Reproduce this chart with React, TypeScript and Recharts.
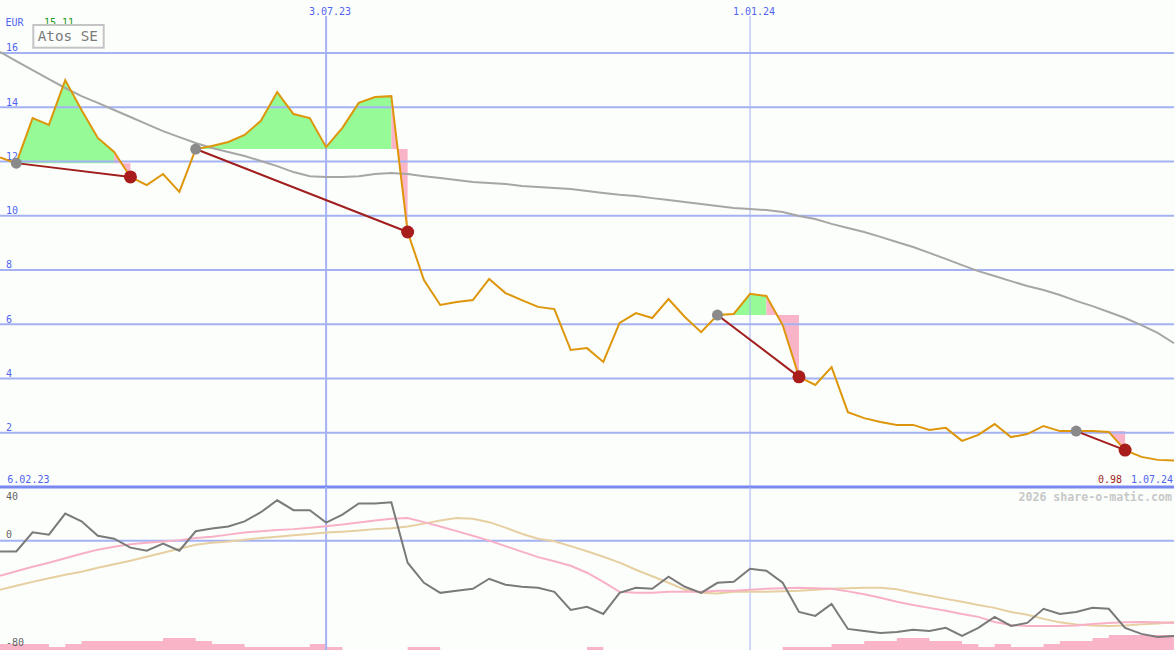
import { ComposedChart, Line, Area, XAxis, YAxis, ReferenceLine } from 'recharts';

// weekly closes, 6.02.23 .. 1.07.24
const price = [
  12.15, 11.94, 13.6, 13.35, 15.0, 13.9, 12.87, 12.35, 11.43, 11.13,
  11.54, 10.88, 12.46, 12.57, 12.72, 12.98, 13.5, 14.56, 13.75, 13.6,
  12.53, 13.24, 14.16, 14.38, 14.41, 9.4, 7.63, 6.71, 6.82, 6.89,
  7.67, 7.15, 6.89, 6.64, 6.56, 5.05, 5.12, 4.61, 6.05, 6.41,
  6.23, 6.93, 6.27, 5.71, 6.34, 6.38, 7.12, 7.04, 5.97, 4.06,
  3.76, 4.42, 2.76, 2.54, 2.4, 2.29, 2.29, 2.1, 2.18, 1.7,
  1.92, 2.32, 1.84, 1.95, 2.25, 2.06, 2.06, 2.06, 2.03, 1.36,
  1.11, 1.0, 0.98,
];

const average = [
  16.04, 15.7, 15.37, 15.04, 14.71, 14.41, 14.16, 13.9, 13.64, 13.38,
  13.12, 12.9, 12.68, 12.5, 12.35, 12.2, 12.02, 11.83, 11.61, 11.46,
  11.43, 11.43, 11.46, 11.54, 11.58, 11.54, 11.46, 11.39, 11.32, 11.24,
  11.21, 11.17, 11.1, 11.06, 11.02, 10.99, 10.91, 10.84, 10.77, 10.73,
  10.65, 10.58, 10.51, 10.43, 10.36, 10.29, 10.25, 10.21, 10.14, 9.99,
  9.88, 9.7, 9.55, 9.4, 9.22, 9.03, 8.85, 8.63, 8.41, 8.18,
  7.96, 7.78, 7.59, 7.41, 7.26, 7.08, 6.86, 6.67, 6.45, 6.23,
  5.97, 5.68, 5.3,
];

const buyIdx = [1, 12, 44, 66];
const turnIdx = [7, 24, 47, 67];
const sellIdx = [8, 25, 49, 69];

const oscillator = [
  -8, -8, 6.2, 4.5, 20.2, 14.4, 3.7, 1.5, -5.2, -7.5,
  -2.2, -7.5, 7, 9, 10.5, 14.4, 21.2, 30.1, 22.7, 22.7,
  13.5, 19.4, 27.7, 27.7, 28.6, -16.4, -31.4, -38.9, -37.4, -35.9,
  -28.4, -32.9, -34.4, -35.1, -38.1, -51.6, -49.3, -54.6, -38.9, -35.1,
  -35.9, -26.9, -34.4, -38.9, -31.4, -30.7, -20.9, -22.4, -31.4, -53.1,
  -56.1, -47.1, -65.8, -67.3, -68.8, -68, -66.5, -67.3, -65, -71,
  -65, -56.8, -63.6, -61.3, -50.8, -54.6, -53.1, -50.1, -50.8, -65,
  -69.5, -71.8, -71,
];

const signalPink = [
  -26.2, -22.8, -19.4, -16.4, -13.1, -9.7, -6.7, -4.5, -2.6, -1.5,
  -0.7, 0.4, 1.9, 3, 4.5, 6, 7.1, 7.9, 8.6, 9.7,
  10.8, 12, 13.5, 15, 16.4, 16.8, 13.8, 10.5, 7.1, 3.7,
  0, -4.1, -8.2, -12.3, -15.3, -18.7, -23.9, -30.7, -38.1, -38.9,
  -38.9, -38.1, -38.1, -38.1, -37.4, -37.4, -36.6, -35.9, -35.5, -35.1,
  -35.5, -35.9, -37.8, -40, -42.6, -45.6, -47.9, -50.1, -52.3, -54.6,
  -56.8, -60.6, -62.8, -63.6, -63.6, -63.6, -63.2, -62.1, -61.3, -60.9,
  -60.6, -60.9, -61.3,
];

const signalTan = [
  -36.6, -33.6, -30.7, -28, -25.4, -23.2, -20.2, -17.6, -15, -12,
  -9, -6, -3, -1.5, -0.7, 0.7, 1.9, 3, 4.1, 4.9,
  6, 6.7, 7.5, 8.6, 9.3, 10.5, 12.7, 15, 16.8, 16.4,
  13.8, 9.7, 5.2, 1.5, -0.4, -4.1, -7.9, -12, -16.4, -21.7,
  -26.5, -31.4, -36.6, -38.9, -39.3, -38.1, -38.1, -38.1, -37.8, -37.4,
  -36.6, -35.9, -35.5, -35.1, -35.1, -36.3, -38.9, -41.1, -43.4, -45.6,
  -47.9, -50.1, -53.1, -55.3, -58.3, -60.9, -62.4, -63.2, -63.6, -63.2,
  -62.4, -61.7, -60.6,
];

const volume = [
  2, 2, 2, 1, 2, 3, 3, 3, 3, 3,
  4, 4, 3, 2, 2, 1, 1, 1, 1, 2,
  1, 0, 0, 0, 0, 1, 1, 0, 0, 0,
  0, 0, 0, 0, 0, 0, 1, 0, 0, 0,
  0, 0, 0, 0, 0, 0, 0, 0, 1, 1,
  1, 2, 2, 3, 3, 4, 4, 3, 3, 2,
  1, 2, 1, 1, 2, 3, 3, 4, 5, 5,
  5, 5, 5,
];

const priceTicks = [2, 4, 6, 8, 10, 12, 14, 16];
const oscTicks = [-80, 0, 40];

const BG = '#fcfefc';
const GRID = '#a4b2f4';
const BLUE = '#5064f0';
const MONO = '"DejaVu Sans Mono", monospace';

const rows = price.map((p, i) => {
  const row: any = { i, price: p, avg: average[i], buy: null, sell: null, gain: null, loss: null };
  buyIdx.forEach((b, k) => {
    const base = price[b];
    if (i === b) row.buy = p;
    if (i === sellIdx[k]) row.sell = p;
    row[`t${k}`] = i === b || i === sellIdx[k] ? p : null;
    if (i >= b && i <= turnIdx[k]) row.gain = [base, p];
    if (i >= turnIdx[k] && i <= sellIdx[k]) row.loss = [base, p];
  });
  return row;
});

const lowRows = oscillator.map((v, i) => ({
  i,
  osc: v,
  pink: signalPink[i],
  tan: signalTan[i],
  vol: volume[i],
}));

const dotRenderer = (fill: string, r: number) => (props: any) => {
  if (props.value == null || props.cy == null) return <g key={`e-${props.index}`} />;
  return <circle key={`d-${props.index}`} cx={props.cx} cy={props.cy} r={r} fill={fill} />;
};

const tickLabel = (value: number, color: string, dy: number) => (props: any) => (
  <text x={6} y={props.viewBox.y + dy} fill={color} fontSize={10} fontFamily={MONO}>
    {value}
  </text>
);

export default function App() {
  return (
    <div style={{ position: 'absolute', left: 0, top: 0, width: 1175, height: 650, background: BG, overflow: 'hidden' }}>
      <div style={{ position: 'absolute', left: 0, top: 0 }}>
        <ComposedChart width={1175} height={490} data={rows} margin={{ top: 16, right: 1, bottom: 3, left: 0 }}>
          <XAxis type="number" dataKey="i" domain={[0, 72]} hide />
          <YAxis type="number" domain={[0, 17.364]} hide allowDataOverflow />
          {priceTicks.map((v) => (
            <ReferenceLine key={v} y={v} stroke={GRID} strokeWidth={2} label={tickLabel(v, BLUE, -1.5)} />
          ))}
          <ReferenceLine x={20} stroke={GRID} strokeWidth={2} />
          <ReferenceLine x={46} stroke={GRID} strokeWidth={1} />
          <Area dataKey="gain" type="linear" stroke="none" fill="#96fa96" fillOpacity={1} isAnimationActive={false} />
          <Area dataKey="loss" type="linear" stroke="none" fill="#fab4c8" fillOpacity={1} isAnimationActive={false} />
          <Line dataKey="avg" stroke="#a6a6a6" strokeWidth={2} dot={false} activeDot={false} isAnimationActive={false} />
          <Line dataKey="buy" stroke="none" dot={dotRenderer('#8a8a8a', 5.5)} activeDot={false} isAnimationActive={false} />
          <Line dataKey="sell" stroke="none" dot={dotRenderer('#a81c1c', 6.5)} activeDot={false} isAnimationActive={false} />
          {buyIdx.map((_, k) => (
            <Line
              key={k}
              dataKey={`t${k}`}
              connectNulls
              stroke="#a01e1e"
              strokeWidth={2}
              dot={false}
              activeDot={false}
              isAnimationActive={false}
            />
          ))}
          <Line dataKey="price" stroke="#dd960a" strokeWidth={2} dot={false} activeDot={false} isAnimationActive={false} />
          <ReferenceLine y={0} stroke="#7888f0" strokeWidth={3} />
        </ComposedChart>
      </div>
      <div style={{ position: 'absolute', left: 0, top: 487 }}>
        <ComposedChart width={1175} height={163} data={lowRows} margin={{ top: 0, right: 1, bottom: 0, left: 0 }}>
          <XAxis type="number" dataKey="i" domain={[0, 72]} hide />
          <YAxis yAxisId="osc" type="number" domain={[-81.5, 40]} hide allowDataOverflow />
          <YAxis yAxisId="vol" type="number" domain={[0, 54]} hide allowDataOverflow />
          {oscTicks.map((v) => (
            <ReferenceLine
              key={v}
              yAxisId="osc"
              y={v}
              stroke={v === 0 ? GRID : 'none'}
              strokeWidth={2}
              label={tickLabel(v, '#666', v === 40 ? 13 : -2.4)}
            />
          ))}
          <ReferenceLine yAxisId="osc" x={20} stroke={GRID} strokeWidth={2} />
          <ReferenceLine yAxisId="osc" x={46} stroke={GRID} strokeWidth={1} />
          <Area yAxisId="vol" dataKey="vol" type="stepAfter" stroke="none" fill="#f9b4c8" fillOpacity={1} isAnimationActive={false} />
          <Line yAxisId="osc" dataKey="tan" stroke="#e6cfa0" strokeWidth={2} dot={false} activeDot={false} isAnimationActive={false} />
          <Line yAxisId="osc" dataKey="pink" stroke="#f8b0c6" strokeWidth={2} dot={false} activeDot={false} isAnimationActive={false} />
          <Line yAxisId="osc" dataKey="osc" stroke="#7a7a7a" strokeWidth={2} dot={false} activeDot={false} isAnimationActive={false} />
        </ComposedChart>
      </div>
      <svg width={1175} height={650} style={{ position: 'absolute', left: 0, top: 0, pointerEvents: 'none' }}>
        <g fontFamily={MONO} fontSize={10}>
          <text x={5.5} y={25.7} fill={BLUE}>EUR</text>
          <text x={44} y={25.7} fill="#229a22">15.11</text>
          <text x={330} y={14.5} fill={BLUE} textAnchor="middle">3.07.23</text>
          <text x={754} y={14.5} fill={BLUE} textAnchor="middle">1.01.24</text>
          <text x={7.3} y={483} fill={BLUE}>6.02.23</text>
          <text x={1098} y={483} fill="#a01e1e">0.98</text>
          <text x={1131} y={483} fill={BLUE}>1.07.24</text>
        </g>
        <rect x={33.3} y={25} width={70.4} height={22.7} fill={BG} stroke="#c4c4c4" strokeWidth={2} />
        <text x={37.7} y={40.7} fill="#7a7a7a" fontFamily={MONO} fontSize={14.3}>Atos SE</text>
        <text x={1172} y={500.5} fill="#c8c8c8" fontFamily={MONO} fontSize={11.6} fontWeight="bold" textAnchor="end">
          2026 share-o-matic.com
        </text>
      </svg>
    </div>
  );
}
